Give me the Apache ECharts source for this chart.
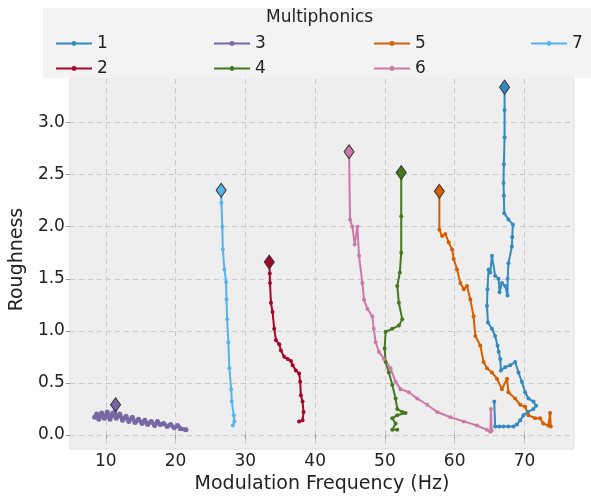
<!DOCTYPE html>
<html><head><meta charset="utf-8">
<script src="https://cdn.jsdelivr.net/npm/echarts@6/dist/echarts.min.js"></script>
<style>html,body{margin:0;padding:0;background:#fff}#c{width:591px;height:499px}</style>
</head><body><div id="c"></div>
<script>
const seriesNames = ['1','2','3','4','5','6','7'];
const xTicks = [10,20,30,40,50,60,70];
const yTicks = [0,0.5,1.0,1.5,2.0,2.5,3.0];

const s1 = [[67.15,3.34],[67.15,3.12],[67.15,2.86],[67.05,2.6],[67.0,2.42],[67.05,2.3],[67.1,2.13],[67.7,2.07],[68.34,2.02],[68.25,1.9],[68.2,1.81],[67.7,1.65],[67.6,1.5],[67.57,1.34],[67.24,1.43],[66.77,1.46],[66.43,1.37],[66.29,1.50],[65.8,1.53],[65.34,1.72],[65.1,1.56],[64.86,1.59],[64.7,1.4],[64.63,1.24],[64.77,1.08],[65.34,1.02],[65.8,0.95],[66.14,0.86],[66.3,0.8],[66.53,0.73],[66.63,0.62],[67.24,0.65],[67.96,0.67],[68.67,0.70],[69.14,0.60],[69.63,0.51],[70.1,0.41],[70.57,0.35],[71.29,0.32],[71.67,0.28],[71.29,0.25],[70.5,0.22],[69.86,0.19],[69.4,0.14],[68.9,0.1],[68.43,0.08],[67.7,0.08],[67.0,0.08],[66.4,0.08],[65.8,0.08],[65.67,0.32]];
const s2 = [[33.43,1.66],[33.5,1.55],[33.53,1.46],[33.67,1.27],[33.9,1.18],[34.14,1.02],[34.39,0.91],[34.86,0.87],[35.1,0.81],[35.57,0.75],[36.06,0.73],[36.53,0.71],[36.77,0.67],[37.24,0.62],[37.71,0.59],[37.86,0.51],[37.96,0.38],[38.2,0.32],[38.34,0.22],[38.2,0.14],[37.71,0.13]];
const s3 = [[11.4,0.29],[11.3,0.19],[8.4,0.17],[8.7,0.20],[9.0,0.15],[9.4,0.21],[9.8,0.16],[10.2,0.22],[10.6,0.15],[11.0,0.21],[11.5,0.16],[12.0,0.20],[12.4,0.14],[12.9,0.18],[13.3,0.13],[13.8,0.17],[14.2,0.12],[14.7,0.15],[15.2,0.11],[15.6,0.14],[16.0,0.10],[16.5,0.13],[17.0,0.09],[17.4,0.13],[17.8,0.10],[18.3,0.11],[18.8,0.08],[19.3,0.10],[19.8,0.07],[20.3,0.09],[20.7,0.06],[21.5,0.05]];
const s4 = [[52.34,2.52],[52.34,2.1],[52.34,1.75],[52.14,1.56],[51.77,1.43],[52.0,1.27],[52.49,1.11],[52.0,1.05],[51.06,1.02],[50.1,0.99],[49.96,0.83],[50.1,0.70],[50.57,0.60],[51.06,0.48],[51.53,0.35],[51.77,0.25],[52.49,0.22],[52.96,0.21],[51.77,0.19],[51.06,0.16],[51.53,0.11],[51.06,0.05],[51.77,0.05]];
const s5 = [[57.8,2.34],[57.8,1.97],[58.2,1.91],[58.67,1.93],[59.14,1.85],[59.63,1.78],[59.86,1.69],[60.34,1.59],[60.81,1.46],[61.3,1.40],[61.77,1.43],[62.24,1.30],[62.71,1.14],[62.96,0.95],[63.67,0.86],[64.14,0.70],[64.63,0.64],[65.34,0.60],[66.06,0.54],[66.77,0.44],[67.5,0.54],[67.7,0.41],[68.67,0.35],[69.4,0.29],[70.1,0.27],[70.57,0.19],[71.53,0.16],[72.24,0.16],[72.7,0.11],[73.43,0.09],[73.67,0.21],[73.77,0.08]];
const s6 = [[44.86,2.72],[45.0,2.07],[45.34,2.00],[45.67,1.83],[46.06,2.00],[46.29,1.72],[46.77,1.46],[47.0,1.30],[47.5,1.21],[48.2,1.14],[48.4,1.02],[48.67,0.89],[49.14,0.80],[49.86,0.73],[50.81,0.64],[51.53,0.51],[52.24,0.44],[53.43,0.41],[54.63,0.35],[56.06,0.29],[57.5,0.22],[59.4,0.17],[61.3,0.13],[63.2,0.09],[64.6,0.05],[65.1,0.03],[65.2,0.25],[65.3,0.04]];
const s7 = [[26.53,2.35],[26.57,2.23],[26.7,2.0],[26.77,1.78],[27.0,1.59],[27.24,1.47],[27.3,1.3],[27.39,1.11],[27.57,0.89],[27.71,0.64],[27.96,0.44],[28.06,0.32],[28.34,0.19],[28.43,0.13],[28.2,0.09]];
const allData = [s1,s2,s3,s4,s5,s6,s7];
const colors = ['#348ABD','#A60628','#7A68A6','#467821','#D55E00','#CC79A7','#56B4E9'];

const series = allData.map((d,i)=>({
  name: seriesNames[i], type:'line', color: colors[i],
  data: d.map((p,j)=> j===0 ? {value:p, symbol:'diamond', symbolSize:[10,14], itemStyle:{borderColor:'#333',borderWidth:1,color:colors[i]}} : {value:p}),
  symbol:'circle', symbolSize: i===2 ? 5 : 4, showSymbol:true, lineStyle:{width: i===2 ? 4 : 2}, itemStyle:{color:colors[i]},
  animation:false, z: 2
}));

const chart = echarts.init(document.getElementById('c'));
const legendBase = {orient:'vertical', padding:0, itemWidth:36, itemHeight:6, itemGap:8, textStyle:{fontFamily:'DejaVu Sans', fontSize:17, color:'#222'}, top:35};
chart.setOption({
  animation:false,
  backgroundColor:'#fff',
  title:{text:'Multiphonics', left:266, top:9, padding:0, textStyle:{fontFamily:'DejaVu Sans', fontSize:17, fontWeight:'normal', color:'#222'}},
  graphic:[{type:'rect', shape:{x:43,y:8,width:560,height:70}, style:{fill:'rgba(242,242,242,0.92)'}, z:3}],
  legend:[
    Object.assign({data:['1','2'], left:55}, legendBase),
    Object.assign({data:['3','4'], left:213}, legendBase),
    Object.assign({data:['5','6'], left:373}, legendBase),
    Object.assign({data:['7'], left:530}, legendBase)
  ],
  grid:{left:68, right:17, top:70, bottom:48, show:true, backgroundColor:'#eeeeee', borderColor:'#e2e2e2', borderWidth:1},
  xAxis:{type:'value', min:4.86, max:77.1,
    name:'Modulation Frequency (Hz)', nameLocation:'middle', nameGap:24,
    nameTextStyle:{fontFamily:'DejaVu Sans', fontSize:19, color:'#222'},
    axisLine:{show:false},
    axisTick:{show:true, customValues:xTicks, length:4, lineStyle:{color:'#999'}},
    axisLabel:{customValues:xTicks, fontFamily:'DejaVu Sans', fontSize:17, color:'#222', margin:4},
    splitLine:{show:true, lineStyle:{color:'#c8c8c8', type:[5,4], width:1}}},
  yAxis:{type:'value', min:-0.136, max:3.505,
    name:'Roughness', nameLocation:'middle', nameGap:27,
    nameTextStyle:{fontFamily:'DejaVu Sans', fontSize:19, color:'#222'},
    axisLine:{show:false},
    axisTick:{show:true, customValues:yTicks, length:4, lineStyle:{color:'#999'}},
    axisLabel:{customValues:yTicks, formatter:v=>v.toFixed(1), fontFamily:'DejaVu Sans', fontSize:17, color:'#222', margin:5},
    splitLine:{show:true, lineStyle:{color:'#c8c8c8', type:[5,4], width:1}}},
  series: series
});
</script></body></html>
